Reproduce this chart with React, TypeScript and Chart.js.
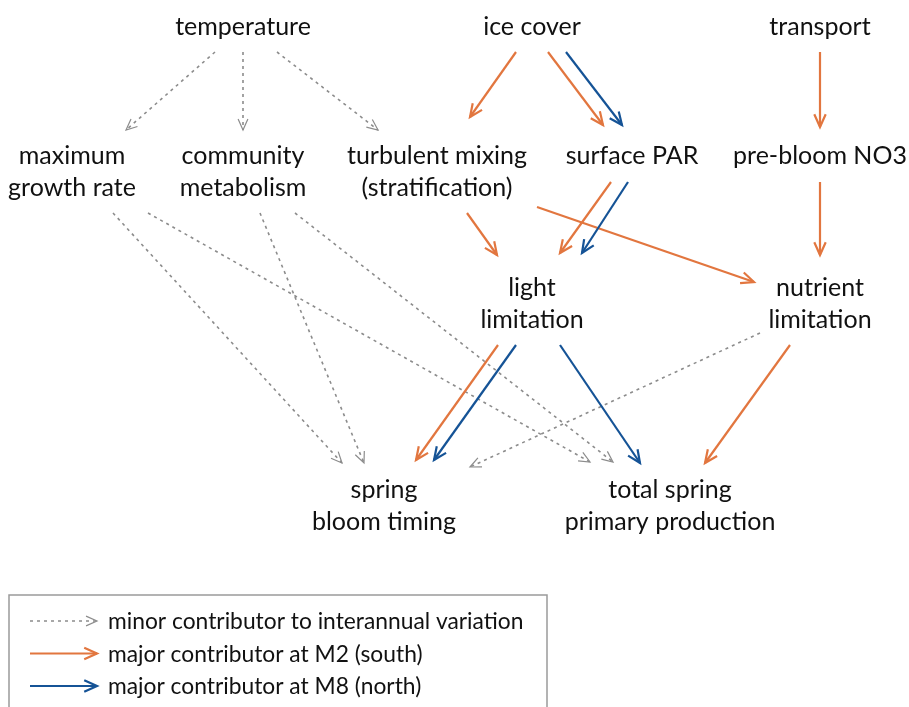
import React, { useEffect, useRef } from 'react';
import { Chart, registerables } from 'chart.js';

Chart.register(...registerables);

// Node labels and their positions (diagram units: x 0..909, y 0..707 top-down, y = first-line baseline)
const nodeLabels = [
  'temperature',
  'ice cover',
  'transport',
  'maximum\ngrowth rate',
  'community\nmetabolism',
  'turbulent mixing\n(stratification)',
  'surface PAR',
  'pre-bloom NO3',
  'light\nlimitation',
  'nutrient\nlimitation',
  'spring\nbloom timing',
  'total spring\nprimary production',
];
const nodeX = [243, 532, 820, 72, 243, 437, 632, 820, 532, 820, 384, 670];
const nodeY = [35, 35, 35, 164, 164, 164, 164, 164, 296, 296, 498, 498];

// Edges: start, end, kind
const edgeX0 = [215, 243, 277, 113, 148, 260, 295, 760, 516, 548, 820, 467, 537, 611, 820, 498, 790, 566, 628, 516, 560];
const edgeY0 = [52, 52, 52, 213, 213, 213, 213, 333, 52, 52, 52, 213, 207, 182, 182, 345, 345, 52, 182, 345, 345];
const edgeX1 = [126, 243, 378, 342, 590, 364, 613, 470, 470, 603, 820, 497, 754, 560, 820, 416, 705, 622, 582, 434, 640];
const edgeY1 = [130, 130, 130, 463, 462, 463, 462, 467, 117, 125, 127, 255, 282, 253, 255, 460, 463, 125, 253, 460, 463];
const edgeKind = [
  'minor', 'minor', 'minor', 'minor', 'minor', 'minor', 'minor', 'minor',
  'M2', 'M2', 'M2', 'M2', 'M2', 'M2', 'M2', 'M2', 'M2',
  'M8', 'M8', 'M8', 'M8',
];

const legendKinds = ['minor', 'M2', 'M8'];
const legendLabels = [
  'minor contributor to interannual variation',
  'major contributor at M2 (south)',
  'major contributor at M8 (north)',
];

const kindColor: Record<string, string> = {
  minor: '#8c8c8c',
  M2: '#E2763F',
  M8: '#155396',
};

function drawArrow(ctx: CanvasRenderingContext2D, x0: number, y0: number, x1: number, y1: number, kind: string) {
  const color = kindColor[kind];
  const minor = kind === 'minor';
  ctx.save();
  ctx.strokeStyle = color;
  ctx.lineWidth = minor ? 1.6 : 2.2;
  ctx.lineCap = 'butt';
  ctx.setLineDash(minor ? [3, 4] : []);
  ctx.beginPath();
  ctx.moveTo(x0, y0);
  ctx.lineTo(x1, y1);
  ctx.stroke();
  ctx.setLineDash([]);
  const ang = Math.atan2(y1 - y0, x1 - x0);
  const len = minor ? 12 : 14;
  const spread = 0.42;
  ctx.lineWidth = minor ? 1.2 : 2.2;
  ctx.lineJoin = 'miter';
  ctx.beginPath();
  ctx.moveTo(x1 - len * Math.cos(ang - spread), y1 - len * Math.sin(ang - spread));
  ctx.lineTo(x1, y1);
  ctx.lineTo(x1 - len * Math.cos(ang + spread), y1 - len * Math.sin(ang + spread));
  ctx.stroke();
  ctx.restore();
}

const diagramPlugin = {
  id: 'diagram',
  afterDatasetsDraw(chart: any) {
    const ctx: CanvasRenderingContext2D = chart.ctx;
    const xs = chart.scales.x;
    const ys = chart.scales.y;
    const px = (v: number) => xs.getPixelForValue(v);
    const py = (v: number) => ys.getPixelForValue(v);

    // edges
    for (let i = 0; i < edgeX0.length; i++) {
      drawArrow(ctx, px(edgeX0[i]), py(edgeY0[i]), px(edgeX1[i]), py(edgeY1[i]), edgeKind[i]);
    }

    // node labels
    ctx.save();
    ctx.fillStyle = '#111';
    ctx.font = '25px Lato, "Noto Sans", sans-serif';
    ctx.textAlign = 'center';
    ctx.textBaseline = 'alphabetic';
    for (let i = 0; i < nodeLabels.length; i++) {
      const lines = nodeLabels[i].split('\n');
      lines.forEach((ln, j) => {
        ctx.fillText(ln, px(nodeX[i]), py(nodeY[i] + j * 32));
      });
    }
    ctx.restore();

    // legend
    ctx.save();
    ctx.strokeStyle = '#9a9a9a';
    ctx.lineWidth = 1.5;
    ctx.strokeRect(px(9), py(595), px(547) - px(9), py(720) - py(595));
    ctx.font = '22.8px Lato, "Noto Sans", sans-serif';
    ctx.textAlign = 'left';
    ctx.textBaseline = 'alphabetic';
    legendKinds.forEach((k, i) => {
      const ly = 621 + i * 32.5;
      drawArrow(ctx, px(30), py(ly), px(97), py(ly), k);
      ctx.fillStyle = '#111';
      ctx.fillText(legendLabels[i], px(108), py(ly + 8));
    });
    ctx.restore();
  },
};

export default function App() {
  const ref = useRef<HTMLCanvasElement | null>(null);
  useEffect(() => {
    if (!ref.current) return;
    const chart = new Chart(ref.current, {
      type: 'scatter',
      data: {
        datasets: [
          {
            data: nodeX.map((x, i) => ({ x, y: nodeY[i] })),
            pointRadius: 0,
            pointHoverRadius: 0,
          },
        ],
      },
      options: {
        animation: false,
        responsive: false,
        maintainAspectRatio: false,
        layout: { padding: 0 },
        events: [],
        scales: {
          x: { type: 'linear', min: 0, max: 909, display: false },
          y: { type: 'linear', min: 0, max: 707, reverse: true, display: false },
        },
        plugins: { legend: { display: false }, tooltip: { enabled: false } },
      },
      plugins: [diagramPlugin],
    });
    return () => chart.destroy();
  }, []);
  return (
    <div style={{ position: 'absolute', left: 0, top: 0, width: 909, height: 707, background: '#fff' }}>
      <canvas ref={ref} width={909} height={707} style={{ display: 'block' }} />
    </div>
  );
}
